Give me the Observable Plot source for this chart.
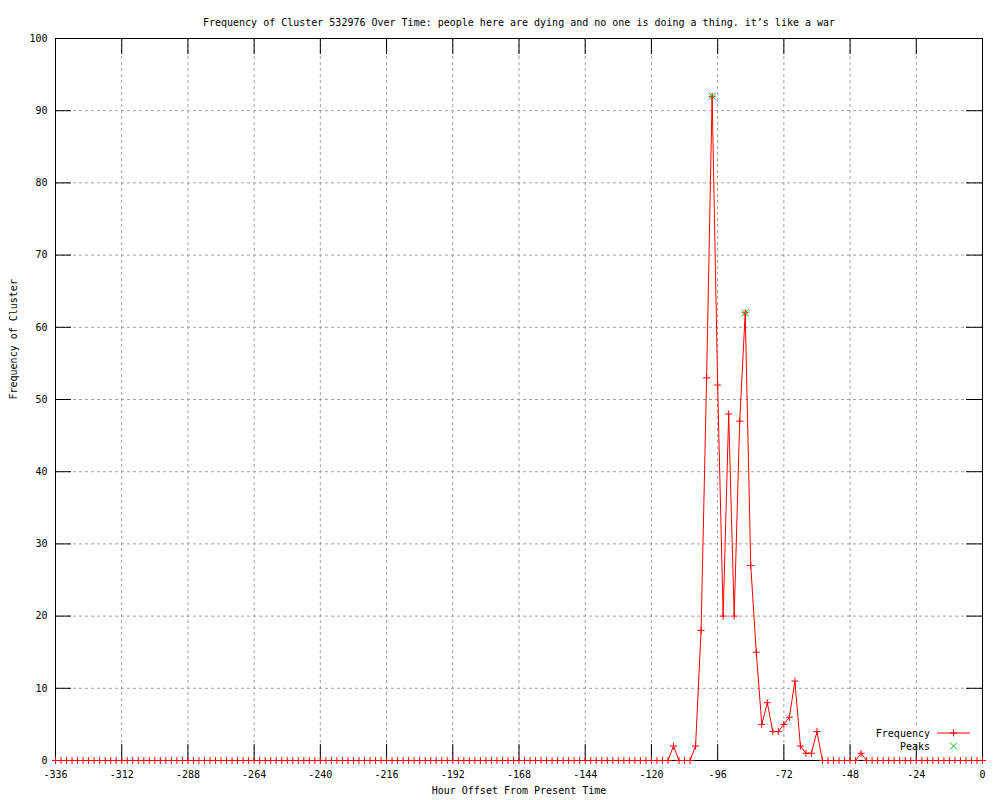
<!DOCTYPE html>
<html>
<head>
<meta charset="utf-8">
<script src="https://cdn.jsdelivr.net/npm/d3@7"></script>
<script src="https://cdn.jsdelivr.net/npm/@observablehq/plot@0.6"></script>
<style>
  html, body { margin: 0; padding: 0; background: white; }
  #chart svg { display: block; }
</style>
</head>
<body>
<div id="chart"></div>
<script>
// ---- data ----
const titleText = "Frequency of Cluster 532976 Over Time: people here are dying and no one is doing a thing. it’s like a war";
const xLabel = "Hour Offset From Present Time";
const yLabel = "Frequency of Cluster";

const hours = [
  -336,-334,-332,-330,-328,-326,-324,-322,-320,-318,-316,-314,
  -312,-310,-308,-306,-304,-302,-300,-298,-296,-294,-292,-290,
  -288,-286,-284,-282,-280,-278,-276,-274,-272,-270,-268,-266,
  -264,-262,-260,-258,-256,-254,-252,-250,-248,-246,-244,-242,
  -240,-238,-236,-234,-232,-230,-228,-226,-224,-222,-220,-218,
  -216,-214,-212,-210,-208,-206,-204,-202,-200,-198,-196,-194,
  -192,-190,-188,-186,-184,-182,-180,-178,-176,-174,-172,-170,
  -168,-166,-164,-162,-160,-158,-156,-154,-152,-150,-148,-146,
  -144,-142,-140,-138,-136,-134,-132,-130,-128,-126,-124,-122,
  -120,-118,-116,-114,-112,-110,-108,-106,-104,-102,-100,-98,
  -96,-94,-92,-90,-88,-86,-84,-82,-80,-78,-76,-74,
  -72,-70,-68,-66,-64,-62,-60,-58,-56,-54,-52,-50,
  -48,-46,-44,-42,-40,-38,-36,-34,-32,-30,-28,-26,
  -24,-22,-20,-18,-16,-14,-12,-10,-8,-6,-4,-2,
  0
];
const frequency = [
  0,0,0,0,0,0,0,0,0,0,0,0,
  0,0,0,0,0,0,0,0,0,0,0,0,
  0,0,0,0,0,0,0,0,0,0,0,0,
  0,0,0,0,0,0,0,0,0,0,0,0,
  0,0,0,0,0,0,0,0,0,0,0,0,
  0,0,0,0,0,0,0,0,0,0,0,0,
  0,0,0,0,0,0,0,0,0,0,0,0,
  0,0,0,0,0,0,0,0,0,0,0,0,
  0,0,0,0,0,0,0,0,0,0,0,0,
  0,0,0,0,2,0,0,0,2,18,53,92,
  52,20,48,20,47,62,27,15,5,8,4,4,
  5,6,11,2,1,1,4,0,0,0,0,0,
  0,0,1,0,0,0,0,0,0,0,0,0,
  0,0,0,0,0,0,0,0,0,0,0,0,
  0
];
const peakHours = [-98, -86];
const peakValues = [92, 62];

const xTicks = [-336,-312,-288,-264,-240,-216,-192,-168,-144,-120,-96,-72,-48,-24,0];
const yTicks = [0,10,20,30,40,50,60,70,80,90,100];

const series = hours.map((h, i) => ({hour: h, freq: frequency[i]}));
const peaks = peakHours.map((h, i) => ({hour: h, freq: peakValues[i]}));

// ---- stroked symbols (gnuplot style) ----
const plusSym = {draw(ctx, size) { const r = Math.sqrt(size / Math.PI); ctx.moveTo(-r, 0); ctx.lineTo(r, 0); ctx.moveTo(0, -r); ctx.lineTo(0, r); }};
const timesSym = {draw(ctx, size) { const r = Math.sqrt(size / Math.PI); ctx.moveTo(-r, -r); ctx.lineTo(r, r); ctx.moveTo(-r, r); ctx.lineTo(r, -r); }};

const W = 1000, H = 800, mT = 38, mR = 18, mB = 40, mL = 55;
const innerW = W - mL - mR, innerH = H - mT - mB;
const TIC = 16;
const FONT = "'DejaVu Sans Mono', monospace";
const gridStyle = {stroke: "#a0a0a0", strokeOpacity: 1, strokeWidth: 1, strokeDasharray: "3,3"};

const chart = Plot.plot({
  width: W, height: H,
  marginTop: mT, marginRight: mR, marginBottom: mB, marginLeft: mL,
  style: {fontFamily: FONT, fontSize: "10px", background: "white", color: "black", overflow: "visible"},
  x: {domain: [-336, 0], ticks: xTicks, tickSize: 0, tickPadding: 10, tickFormat: d => String(d), label: null},
  y: {domain: [0, 100], ticks: yTicks, tickSize: 0, tickPadding: 8, tickFormat: d => String(d), label: null},
  marks: [
    Plot.ruleX(xTicks.slice(1, -1), gridStyle),
    Plot.ruleY(yTicks.slice(1, -1), gridStyle),
    Plot.line(series, {x: "hour", y: "freq", stroke: "#ff0000", strokeWidth: 1}),
    Plot.frame({stroke: "black", strokeWidth: 1}),
    Plot.ruleX(xTicks, {insetTop: innerH - TIC, stroke: "black"}),
    Plot.ruleX(xTicks, {insetBottom: innerH - TIC, stroke: "black"}),
    Plot.ruleY(yTicks, {insetRight: innerW - TIC, stroke: "black"}),
    Plot.ruleY(yTicks, {insetLeft: innerW - TIC, stroke: "black"}),
    Plot.dot(series, {x: "hour", y: "freq", symbol: plusSym, r: 3.5, fill: "none", stroke: "#ff0000", strokeWidth: 1}),
    Plot.dot(peaks, {x: "hour", y: "freq", symbol: timesSym, r: 3.5, fill: "none", stroke: "#00c000", strokeWidth: 1}),
    Plot.text([titleText], {frameAnchor: "top", dy: -20, text: d => d, fontSize: 10, fill: "black"}),
    Plot.text([xLabel], {frameAnchor: "bottom", dy: 33, text: d => d, fontSize: 10, fill: "black"}),
    Plot.text([yLabel], {frameAnchor: "left", dx: -42, rotate: -90, text: d => d, fontSize: 10, fill: "black"})
  ]
});

document.getElementById("chart").append(chart);

// ---- legend (gnuplot key, bottom right, opaque) ----
const svg = d3.select(chart);
svg.insert("rect", 'g[aria-label="line"]')
  .attr("x", 868).attr("y", 725).attr("width", 112).attr("height", 27)
  .attr("fill", "white");
const key = svg.append("g").attr("font-family", FONT).attr("font-size", 10).attr("fill", "black");
key.append("text").attr("x", 930).attr("y", 733).attr("dy", "0.35em").attr("text-anchor", "end").text("Frequency");
key.append("text").attr("x", 930).attr("y", 746).attr("dy", "0.35em").attr("text-anchor", "end").text("Peaks");
key.append("line").attr("x1", 937).attr("x2", 970).attr("y1", 733).attr("y2", 733).attr("stroke", "#ff0000");
key.append("path").attr("d", "M950,733h7M953.5,729.5v7").attr("stroke", "#ff0000").attr("fill", "none");
key.append("path").attr("d", "M950,742.5l7,7M950,749.5l7,-7").attr("stroke", "#00c000").attr("fill", "none");
</script>
</body>
</html>
